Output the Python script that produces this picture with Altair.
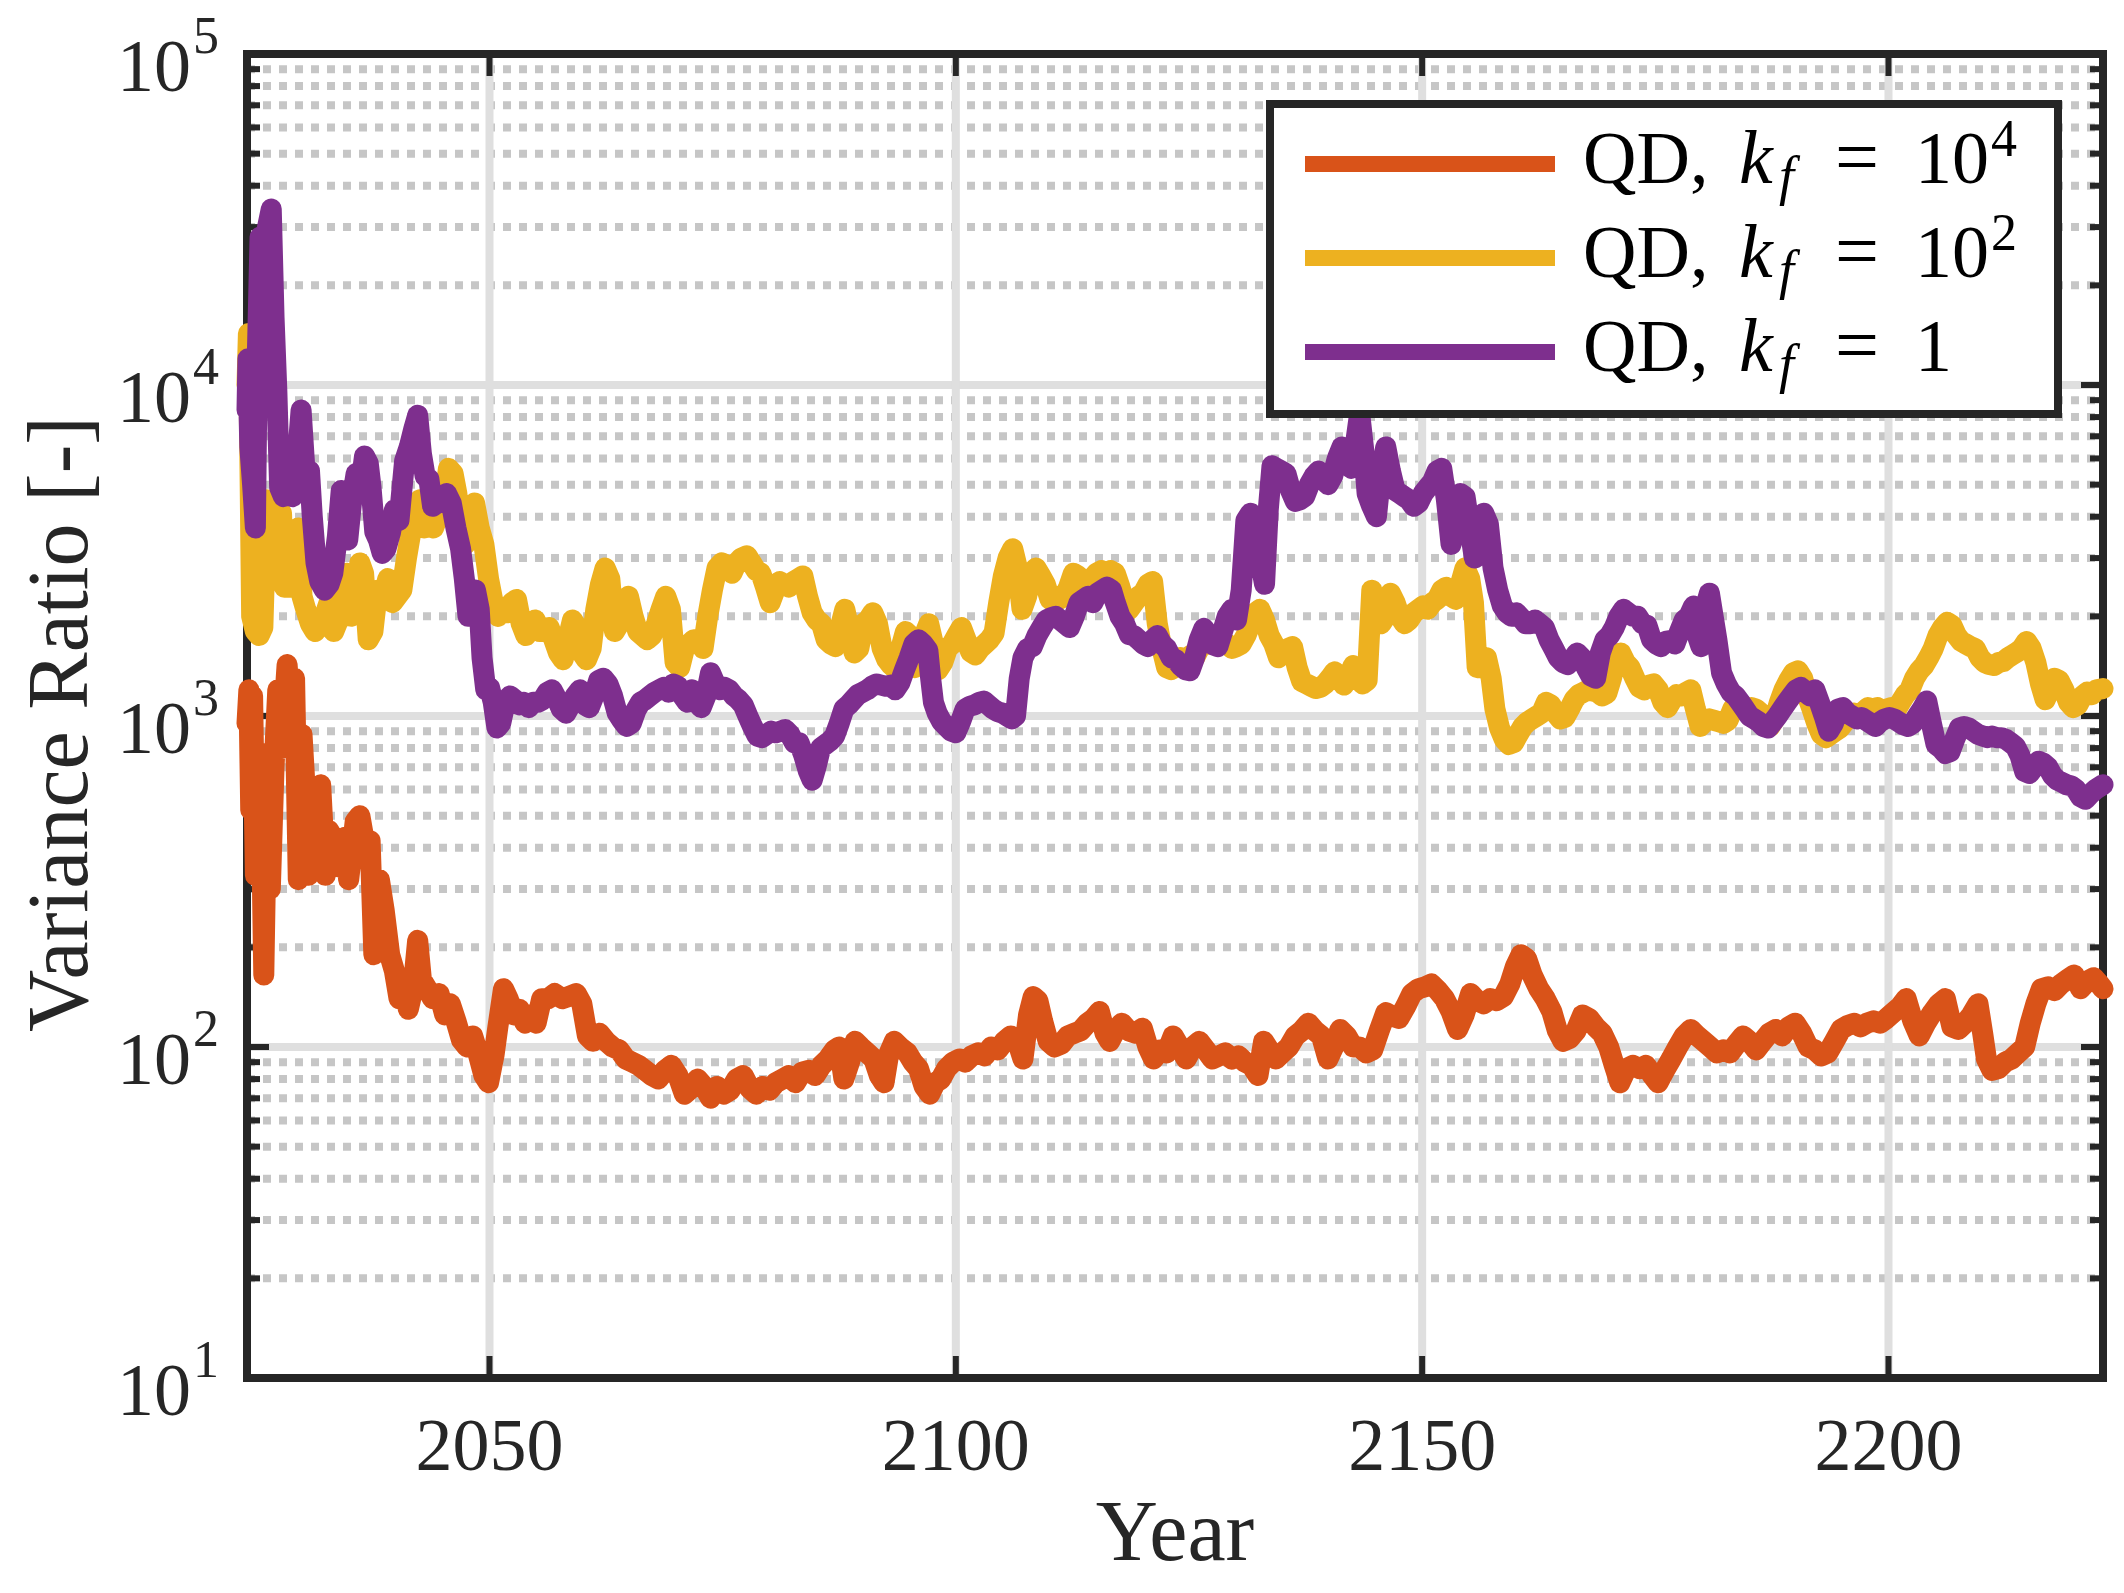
import altair as alt
import pandas as pd

# ---------------- data ----------------
SERIES = ["QD, kf = 1e4", "QD, kf = 1e2", "QD, kf = 1"]
COLORS = ["#D95319", "#EDB120", "#7E2F8E"]

KF_1E4 = [
    (2024.0, 950), (2024.2, 1200), (2024.4, 520), (2024.6, 1150), (2024.9, 330), (2025.2, 780),
    (2025.5, 600), (2025.8, 165), (2026.2, 770), (2026.5, 300), (2026.9, 700), (2027.3, 1200),
    (2027.7, 800), (2028.3, 1430), (2028.7, 1000), (2029.1, 1300), (2029.5, 320), (2029.9, 880),
    (2030.3, 560), (2030.6, 330), (2031.0, 600), (2031.4, 400), (2031.9, 620), (2032.4, 330),
    (2032.8, 450), (2033.4, 420), (2033.9, 350), (2034.5, 430), (2034.9, 320), (2035.6, 480),
    (2036.1, 500), (2036.7, 400), (2037.2, 420), (2037.6, 190), (2038.2, 320), (2038.7, 260),
    (2039.3, 190), (2039.8, 170), (2040.3, 140), (2040.8, 150), (2041.3, 130), (2041.8, 150),
    (2042.3, 210), (2042.7, 160), (2043.3, 150), (2043.9, 140), (2044.6, 145), (2045.2, 125),
    (2045.8, 135), (2046.4, 120), (2047.0, 105), (2047.6, 100), (2048.2, 108), (2048.8, 95),
    (2049.4, 82), (2049.9, 78), (2050.5, 95), (2050.9, 115), (2051.5, 150), (2052.0, 140),
    (2052.6, 125), (2053.2, 130), (2053.8, 118), (2054.4, 125), (2055.0, 118), (2055.6, 140),
    (2056.3, 140), (2057.0, 145), (2057.8, 140), (2058.5, 142), (2059.3, 145), (2059.9, 135),
    (2060.5, 108), (2061.1, 104), (2061.8, 110), (2062.5, 104), (2063.2, 100), (2063.9, 98),
    (2064.6, 92), (2065.3, 90), (2066.0, 88), (2066.7, 85), (2067.4, 82), (2068.1, 80),
    (2068.8, 85), (2069.5, 88), (2070.2, 82), (2070.9, 72), (2071.6, 75), (2072.3, 80),
    (2073.0, 76), (2073.7, 70), (2074.4, 76), (2075.1, 72), (2075.8, 74), (2076.5, 80),
    (2077.2, 82), (2077.9, 75), (2078.6, 72), (2079.3, 76), (2080.0, 74), (2080.7, 78),
    (2081.4, 80), (2082.1, 82), (2082.8, 78), (2083.5, 84), (2084.2, 85), (2084.9, 82),
    (2085.6, 88), (2086.3, 92), (2087.0, 98), (2087.5, 100), (2088.0, 80), (2088.6, 90),
    (2089.2, 104), (2089.8, 100), (2090.5, 96), (2091.2, 92), (2091.8, 82), (2092.3, 78),
    (2092.8, 95), (2093.4, 104), (2094.0, 100), (2094.8, 96), (2095.4, 90), (2096.0, 86),
    (2096.6, 76), (2097.2, 72), (2097.8, 78), (2098.4, 80), (2099.0, 86), (2099.7, 90),
    (2100.4, 92), (2101.0, 90), (2101.7, 94), (2102.4, 96), (2103.1, 94), (2103.8, 100),
    (2104.5, 98), (2105.2, 104), (2105.9, 108), (2106.6, 104), (2107.2, 92), (2107.8, 125),
    (2108.3, 142), (2108.8, 138), (2109.3, 120), (2109.9, 104), (2110.6, 100), (2111.3, 102),
    (2112.0, 108), (2112.7, 110), (2113.4, 112), (2114.1, 118), (2114.8, 122), (2115.4, 128),
    (2116.0, 110), (2116.5, 104), (2117.1, 112), (2117.8, 118), (2118.5, 112), (2119.3, 110),
    (2120.0, 114), (2120.6, 100), (2121.2, 92), (2121.9, 98), (2122.6, 96), (2123.3, 108),
    (2124.0, 100), (2124.7, 92), (2125.4, 100), (2126.1, 104), (2126.8, 98), (2127.5, 92),
    (2128.2, 94), (2128.9, 96), (2129.6, 92), (2130.3, 94), (2131.0, 90), (2131.7, 88),
    (2132.4, 82), (2133.0, 104), (2133.6, 98), (2134.3, 92), (2135.0, 96), (2135.7, 100),
    (2136.4, 108), (2137.1, 112), (2137.8, 118), (2138.5, 112), (2139.2, 108), (2139.9, 92),
    (2140.5, 100), (2141.2, 113), (2141.9, 108), (2142.6, 100), (2143.3, 100), (2144.0, 96),
    (2144.7, 98), (2145.4, 112), (2146.1, 127), (2146.8, 124), (2147.5, 122), (2148.2, 132),
    (2148.9, 145), (2149.6, 150), (2150.3, 152), (2151.0, 155), (2151.7, 148), (2152.4, 140),
    (2153.1, 128), (2153.8, 113), (2154.5, 125), (2155.2, 145), (2155.9, 138), (2156.6, 135),
    (2157.3, 140), (2158.0, 138), (2158.7, 142), (2159.4, 155), (2160.0, 175), (2160.6, 190),
    (2161.2, 185), (2161.8, 165), (2162.5, 150), (2163.2, 140), (2163.9, 128), (2164.5, 112),
    (2165.1, 104), (2165.8, 106), (2166.5, 112), (2167.2, 125), (2167.9, 122), (2168.6, 115),
    (2169.3, 110), (2170.0, 100), (2170.6, 88), (2171.2, 78), (2171.9, 86), (2172.6, 88),
    (2173.3, 86), (2174.0, 88), (2174.7, 82), (2175.3, 78), (2176.0, 85), (2176.7, 92),
    (2177.4, 100), (2178.1, 108), (2178.8, 113), (2179.5, 108), (2180.2, 104), (2180.9, 100),
    (2181.6, 96), (2182.3, 98), (2183.0, 96), (2183.7, 102), (2184.4, 108), (2185.1, 104),
    (2185.8, 98), (2186.5, 104), (2187.2, 110), (2187.9, 113), (2188.6, 108), (2189.3, 115),
    (2190.0, 118), (2190.7, 110), (2191.4, 100), (2192.1, 98), (2192.8, 94), (2193.5, 96),
    (2194.2, 104), (2194.9, 113), (2195.6, 116), (2196.3, 118), (2197.0, 115), (2197.7, 118),
    (2198.4, 120), (2199.1, 118), (2199.8, 122), (2200.5, 127), (2201.2, 132), (2201.9, 140),
    (2202.6, 120), (2203.3, 108), (2204.0, 118), (2204.7, 127), (2205.4, 135), (2206.1, 140),
    (2206.8, 115), (2207.5, 113), (2208.2, 118), (2208.9, 125), (2209.6, 135), (2210.1, 110),
    (2210.5, 92), (2211.1, 85), (2211.8, 86), (2212.5, 90), (2213.2, 92), (2213.9, 96),
    (2214.6, 100), (2215.2, 118), (2215.8, 135), (2216.4, 150), (2217.1, 152), (2217.8, 148),
    (2218.5, 155), (2219.2, 160), (2219.9, 165), (2220.6, 150), (2221.3, 158), (2222.0, 162),
    (2222.6, 155), (2223.0, 150),
]

KF_1E2 = [
    (2024.0, 10000), (2024.15, 14300), (2024.3, 6300), (2024.5, 2000), (2024.9, 1800), (2025.3, 1750),
    (2025.7, 1850), (2026.1, 4500), (2026.5, 2600), (2026.9, 2700), (2027.3, 3200), (2027.7, 4100),
    (2028.0, 2450), (2028.5, 2450), (2029.0, 2500), (2029.5, 3700), (2029.9, 2300), (2030.3, 2100),
    (2030.8, 1900), (2031.3, 1800), (2031.8, 1900), (2032.3, 2000), (2032.8, 2200), (2033.3, 1800),
    (2033.8, 1950), (2034.3, 2000), (2034.7, 2700), (2035.2, 2000), (2035.6, 2300), (2036.1, 2900),
    (2036.5, 2700), (2037.0, 1700), (2037.5, 1800), (2038.0, 2400), (2038.6, 2300), (2039.1, 2600),
    (2039.6, 2200), (2040.1, 2300), (2040.6, 2400), (2041.1, 3000), (2041.5, 3500), (2042.0, 4300),
    (2042.5, 4500), (2043.0, 3700), (2043.5, 3900), (2044.0, 3700), (2044.6, 4100), (2045.1, 4300),
    (2045.6, 5600), (2046.1, 5400), (2046.5, 4700), (2047.0, 3600), (2047.4, 3300), (2047.9, 4000),
    (2048.4, 4400), (2048.9, 3700), (2049.4, 3300), (2049.9, 2600), (2050.4, 2200), (2050.9, 2000),
    (2051.4, 2100), (2051.9, 2050), (2052.4, 2200), (2052.9, 2250), (2053.4, 1900), (2053.9, 1750),
    (2054.4, 1900), (2054.9, 1950), (2055.4, 1800), (2055.9, 1800), (2056.4, 1850), (2056.9, 1700),
    (2057.4, 1550), (2057.9, 1480), (2058.4, 1700), (2058.9, 1950), (2059.4, 1850), (2059.9, 1550),
    (2060.4, 1480), (2060.9, 1600), (2061.4, 2100), (2061.9, 2500), (2062.4, 2800), (2062.9, 2600),
    (2063.4, 1800), (2063.9, 1900), (2064.4, 2100), (2064.9, 2300), (2065.4, 2000), (2065.9, 1800),
    (2066.4, 1750), (2066.9, 1700), (2067.4, 1750), (2067.9, 1900), (2068.4, 2100), (2068.9, 2300),
    (2069.4, 2100), (2069.9, 1450), (2070.4, 1400), (2070.9, 1600), (2071.4, 1650), (2071.9, 1700),
    (2072.4, 1700), (2072.9, 1600), (2073.4, 2000), (2073.9, 2400), (2074.4, 2800), (2074.9, 2900),
    (2075.5, 2850), (2076.0, 2700), (2076.5, 2900), (2077.0, 3000), (2077.6, 3050), (2078.1, 2900),
    (2078.6, 2750), (2079.1, 2700), (2079.6, 2450), (2080.1, 2200), (2080.6, 2400), (2081.1, 2550),
    (2081.6, 2500), (2082.1, 2450), (2082.6, 2550), (2083.1, 2600), (2083.6, 2650), (2084.1, 2300),
    (2084.6, 2050), (2085.1, 1950), (2085.6, 1900), (2086.1, 1700), (2086.6, 1650), (2087.1, 1620),
    (2087.6, 1850), (2088.1, 2100), (2088.6, 1800), (2089.1, 1550), (2089.6, 1600), (2090.1, 1900),
    (2090.6, 1950), (2091.1, 2050), (2091.6, 1900), (2092.1, 1600), (2092.6, 1480), (2093.1, 1420),
    (2093.6, 1450), (2094.1, 1600), (2094.6, 1800), (2095.1, 1750), (2095.6, 1400), (2096.1, 1500),
    (2096.6, 1750), (2097.1, 1900), (2097.6, 1650), (2098.1, 1380), (2098.6, 1450), (2099.1, 1600),
    (2099.6, 1650), (2100.1, 1750), (2100.6, 1850), (2101.1, 1700), (2101.6, 1560), (2102.1, 1530),
    (2102.6, 1600), (2103.1, 1650), (2103.6, 1700), (2104.1, 1780), (2104.6, 2200), (2105.1, 2650),
    (2105.6, 3000), (2106.1, 3200), (2106.6, 2800), (2107.1, 2100), (2107.6, 2300), (2108.1, 2700),
    (2108.6, 2800), (2109.1, 2650), (2109.6, 2500), (2110.1, 2250), (2110.6, 2300), (2111.1, 2250),
    (2111.6, 2300), (2112.1, 2450), (2112.6, 2700), (2113.1, 2650), (2113.6, 2500), (2114.1, 2450),
    (2114.6, 2600), (2115.1, 2700), (2115.6, 2750), (2116.1, 2700), (2116.6, 2750), (2117.1, 2700),
    (2117.6, 2450), (2118.1, 2200), (2118.6, 2100), (2119.1, 2200), (2119.6, 2300), (2120.1, 2350),
    (2120.6, 2500), (2121.1, 2550), (2121.6, 1900), (2122.1, 1600), (2122.6, 1400), (2123.1, 1380),
    (2123.6, 1450), (2124.1, 1500), (2124.6, 1480), (2125.1, 1520), (2125.6, 1500), (2126.1, 1600),
    (2126.6, 1640), (2127.1, 1650), (2127.6, 1690), (2128.1, 1700), (2128.6, 1680), (2129.1, 1650),
    (2129.6, 1600), (2130.1, 1620), (2130.6, 1650), (2131.1, 1750), (2131.6, 1900), (2132.1, 2050),
    (2132.6, 2100), (2133.1, 1950), (2133.6, 1750), (2134.1, 1650), (2134.6, 1500), (2135.1, 1550),
    (2135.6, 1600), (2136.1, 1620), (2136.6, 1400), (2137.1, 1270), (2137.6, 1250), (2138.1, 1230),
    (2138.6, 1210), (2139.1, 1220), (2139.6, 1250), (2140.1, 1300), (2140.6, 1360), (2141.1, 1320),
    (2141.6, 1240), (2142.1, 1300), (2142.6, 1420), (2143.1, 1350), (2143.6, 1250), (2144.1, 1280),
    (2144.6, 2400), (2145.1, 2100), (2145.6, 1900), (2146.1, 2000), (2146.6, 2350), (2147.1, 2200),
    (2147.6, 2000), (2148.1, 1900), (2148.6, 1950), (2149.1, 2050), (2149.6, 2100), (2150.1, 2150),
    (2150.6, 2100), (2151.1, 2200), (2151.6, 2250), (2152.1, 2400), (2152.6, 2450), (2153.1, 2300),
    (2153.6, 2250), (2154.1, 2500), (2154.6, 2800), (2155.1, 2600), (2155.5, 2200), (2155.9, 1400),
    (2156.4, 1400), (2156.9, 1500), (2157.4, 1300), (2157.8, 1050), (2158.3, 920), (2158.8, 850),
    (2159.3, 820), (2159.8, 830), (2160.3, 880), (2160.8, 930), (2161.3, 960), (2161.8, 980),
    (2162.3, 1000), (2162.8, 1020), (2163.3, 1100), (2163.8, 1080), (2164.3, 1020), (2164.8, 980),
    (2165.3, 990), (2165.8, 1050), (2166.3, 1120), (2166.8, 1160), (2167.3, 1180), (2167.8, 1200),
    (2168.3, 1190), (2168.8, 1180), (2169.3, 1150), (2169.8, 1170), (2170.3, 1300), (2170.8, 1500),
    (2171.3, 1550), (2171.8, 1450), (2172.3, 1400), (2172.8, 1300), (2173.3, 1220), (2173.8, 1200),
    (2174.3, 1240), (2174.8, 1250), (2175.3, 1200), (2175.8, 1100), (2176.3, 1060), (2176.8, 1120),
    (2177.3, 1160), (2177.8, 1150), (2178.3, 1180), (2178.8, 1200), (2179.3, 1050), (2179.8, 930),
    (2180.3, 960), (2180.8, 980), (2181.3, 970), (2181.8, 960), (2182.3, 950), (2182.8, 970),
    (2183.3, 1050), (2183.8, 1100), (2184.3, 1080), (2184.8, 1050), (2185.3, 1060), (2185.8, 1050),
    (2186.3, 1020), (2186.8, 980), (2187.3, 930), (2187.8, 980), (2188.3, 1100), (2188.8, 1200),
    (2189.3, 1280), (2189.8, 1350), (2190.3, 1370), (2190.8, 1300), (2191.3, 1150), (2191.8, 1050),
    (2192.3, 950), (2192.8, 880), (2193.3, 860), (2193.8, 880), (2194.3, 900), (2194.8, 920),
    (2195.3, 960), (2195.8, 1000), (2196.3, 1020), (2196.8, 1000), (2197.3, 1030), (2197.8, 1060),
    (2198.3, 1050), (2198.8, 1060), (2199.3, 1040), (2199.8, 1050), (2200.3, 1060), (2200.8, 1040),
    (2201.3, 1100), (2201.8, 1160), (2202.3, 1200), (2202.8, 1300), (2203.3, 1370), (2203.8, 1420),
    (2204.3, 1500), (2204.8, 1600), (2205.3, 1750), (2205.8, 1850), (2206.3, 1920), (2206.8, 1880),
    (2207.3, 1750), (2207.8, 1680), (2208.3, 1650), (2208.8, 1620), (2209.3, 1600), (2209.8, 1500),
    (2210.3, 1450), (2210.8, 1430), (2211.3, 1420), (2211.8, 1450), (2212.3, 1460), (2212.8, 1500),
    (2213.3, 1530), (2213.8, 1560), (2214.3, 1600), (2214.8, 1680), (2215.3, 1600), (2215.8, 1450),
    (2216.3, 1250), (2216.8, 1120), (2217.3, 1200), (2217.8, 1300), (2218.3, 1280), (2218.8, 1200),
    (2219.3, 1100), (2219.8, 1060), (2220.3, 1080), (2220.8, 1150), (2221.3, 1180), (2221.8, 1160),
    (2222.3, 1200), (2223.0, 1210),
]

KF_1 = [
    (2024.0, 8400), (2024.1, 12000), (2024.3, 6500), (2024.6, 5000), (2024.9, 3700), (2025.1, 12000),
    (2025.4, 28000), (2025.8, 22000), (2026.2, 30000), (2026.6, 34000), (2026.9, 16000), (2027.2, 9600),
    (2027.5, 4900), (2027.9, 4600), (2028.4, 4700), (2028.9, 4600), (2029.4, 6000), (2029.8, 8400),
    (2030.2, 5600), (2030.7, 5500), (2031.0, 4000), (2031.4, 2900), (2031.8, 2550), (2032.3, 2400),
    (2032.8, 2500), (2033.2, 2700), (2033.7, 3500), (2034.1, 4800), (2034.5, 3800), (2034.8, 3400),
    (2035.2, 4400), (2035.7, 5400), (2036.2, 5000), (2036.6, 6100), (2037.0, 5800), (2037.3, 4900),
    (2037.7, 3600), (2038.1, 3400), (2038.5, 3100), (2038.9, 3200), (2039.4, 3600), (2039.8, 4200),
    (2040.3, 3900), (2040.9, 5900), (2041.4, 6500), (2041.9, 7400), (2042.3, 8100), (2042.7, 6200),
    (2043.1, 5300), (2043.5, 5200), (2043.9, 4300), (2044.4, 4400), (2044.9, 4600), (2045.4, 4700),
    (2045.9, 4400), (2046.4, 3700), (2046.9, 3200), (2047.3, 2600), (2047.7, 2000), (2048.1, 2200),
    (2048.5, 2400), (2048.9, 2100), (2049.2, 1500), (2049.6, 1200), (2050.0, 1220), (2050.4, 1100),
    (2050.8, 920), (2051.2, 950), (2051.7, 1100), (2052.2, 1150), (2052.7, 1120), (2053.2, 1080),
    (2053.7, 1100), (2054.2, 1060), (2054.7, 1100), (2055.2, 1100), (2055.7, 1120), (2056.2, 1180),
    (2056.7, 1200), (2057.2, 1130), (2057.7, 1050), (2058.2, 1020), (2058.7, 1080), (2059.2, 1150),
    (2059.7, 1200), (2060.2, 1080), (2060.7, 1060), (2061.2, 1150), (2061.7, 1280), (2062.2, 1300),
    (2062.7, 1250), (2063.2, 1150), (2063.7, 1020), (2064.2, 970), (2064.7, 930), (2065.2, 950),
    (2065.7, 1040), (2066.2, 1100), (2066.7, 1120), (2067.2, 1150), (2067.7, 1180), (2068.2, 1200),
    (2068.7, 1220), (2069.2, 1180), (2069.7, 1250), (2070.2, 1230), (2070.7, 1150), (2071.2, 1100),
    (2071.7, 1200), (2072.2, 1100), (2072.7, 1060), (2073.2, 1150), (2073.7, 1350), (2074.2, 1250),
    (2074.7, 1200), (2075.2, 1220), (2075.7, 1200), (2076.2, 1150), (2076.7, 1120), (2077.2, 1080),
    (2077.7, 1000), (2078.2, 930), (2078.7, 870), (2079.2, 860), (2079.7, 880), (2080.2, 900),
    (2080.7, 890), (2081.2, 900), (2081.7, 910), (2082.2, 880), (2082.7, 830), (2083.2, 830),
    (2083.7, 760), (2084.2, 680), (2084.6, 640), (2085.0, 700), (2085.5, 800), (2086.0, 820),
    (2086.5, 840), (2087.0, 870), (2087.5, 950), (2088.0, 1050), (2088.5, 1080), (2089.0, 1120),
    (2089.5, 1160), (2090.0, 1180), (2090.5, 1200), (2091.0, 1230), (2091.5, 1250), (2092.0, 1240),
    (2092.5, 1230), (2093.0, 1240), (2093.5, 1200), (2094.0, 1260), (2094.5, 1380), (2095.0, 1500),
    (2095.5, 1650), (2096.0, 1700), (2096.5, 1650), (2097.0, 1580), (2097.3, 1300), (2097.6, 1100),
    (2098.0, 1020), (2098.5, 960), (2099.0, 930), (2099.5, 900), (2100.0, 890), (2100.5, 960),
    (2101.0, 1050), (2101.5, 1070), (2102.0, 1080), (2102.5, 1100), (2103.0, 1110), (2103.5, 1080),
    (2104.0, 1050), (2104.5, 1030), (2105.0, 1020), (2105.5, 1000), (2106.0, 980), (2106.4, 1000),
    (2106.8, 1300), (2107.2, 1500), (2107.7, 1600), (2108.2, 1620), (2108.7, 1750), (2109.2, 1850),
    (2109.7, 1950), (2110.2, 1980), (2110.7, 2000), (2111.2, 1950), (2111.7, 1900), (2112.2, 1850),
    (2112.7, 2000), (2113.2, 2200), (2113.7, 2250), (2114.2, 2300), (2114.7, 2200), (2115.2, 2350),
    (2115.7, 2400), (2116.2, 2450), (2116.7, 2400), (2117.1, 2200), (2117.6, 2000), (2118.1, 1900),
    (2118.6, 1760), (2119.1, 1750), (2119.6, 1700), (2120.1, 1650), (2120.6, 1620), (2121.1, 1700),
    (2121.6, 1750), (2122.1, 1650), (2122.6, 1600), (2123.1, 1500), (2123.6, 1480), (2124.1, 1420),
    (2124.6, 1380), (2125.1, 1370), (2125.6, 1500), (2126.1, 1700), (2126.6, 1840), (2127.1, 1750),
    (2127.6, 1640), (2128.1, 1620), (2128.6, 1800), (2129.1, 2000), (2129.6, 2100), (2130.1, 1950),
    (2130.6, 2400), (2131.1, 3900), (2131.6, 4100), (2132.1, 3700), (2132.6, 3000), (2133.1, 2500),
    (2133.5, 4200), (2133.9, 5700), (2134.4, 5600), (2134.9, 5500), (2135.4, 5400), (2135.9, 4800),
    (2136.4, 4450), (2136.9, 4500), (2137.4, 4600), (2137.9, 5000), (2138.4, 5300), (2138.9, 5500),
    (2139.4, 5200), (2139.9, 5000), (2140.4, 5300), (2140.9, 6000), (2141.4, 6500), (2141.9, 6000),
    (2142.4, 5600), (2142.9, 6800), (2143.3, 8200), (2143.7, 6500), (2144.1, 4700), (2144.6, 4300),
    (2145.1, 4000), (2145.6, 5500), (2146.1, 6500), (2146.6, 5500), (2147.1, 4800), (2147.6, 4700),
    (2148.1, 4600), (2148.6, 4500), (2149.1, 4300), (2149.6, 4400), (2150.1, 4700), (2150.6, 4900),
    (2151.1, 5100), (2151.6, 5500), (2152.1, 5600), (2152.6, 4500), (2153.1, 3300), (2153.6, 3800),
    (2154.1, 4700), (2154.6, 4600), (2155.1, 3700), (2155.6, 3000), (2156.1, 3600), (2156.6, 4100),
    (2157.1, 3800), (2157.6, 2800), (2158.1, 2400), (2158.6, 2150), (2159.1, 2050), (2159.6, 2000),
    (2160.1, 2050), (2160.6, 1980), (2161.1, 1900), (2161.6, 1900), (2162.1, 1950), (2162.6, 1900),
    (2163.1, 1850), (2163.6, 1700), (2164.1, 1600), (2164.6, 1500), (2165.1, 1450), (2165.6, 1430),
    (2166.1, 1480), (2166.6, 1550), (2167.1, 1500), (2167.6, 1400), (2168.1, 1320), (2168.6, 1300),
    (2169.1, 1550), (2169.6, 1700), (2170.1, 1750), (2170.6, 1850), (2171.1, 2000), (2171.6, 2100),
    (2172.1, 2050), (2172.6, 2000), (2173.1, 2000), (2173.6, 1900), (2174.1, 1880), (2174.6, 1700),
    (2175.1, 1650), (2175.6, 1620), (2176.1, 1680), (2176.6, 1690), (2177.1, 1650), (2177.6, 1800),
    (2178.1, 1950), (2178.6, 2000), (2179.1, 2150), (2179.5, 1750), (2179.9, 1620), (2180.3, 2100),
    (2180.8, 2350), (2181.2, 2000), (2181.6, 1700), (2182.1, 1350), (2182.6, 1250), (2183.1, 1180),
    (2183.6, 1150), (2184.1, 1100), (2184.6, 1050), (2185.1, 1000), (2185.6, 980), (2186.1, 960),
    (2186.6, 930), (2187.1, 920), (2187.6, 960), (2188.1, 1000), (2188.6, 1050), (2189.1, 1100),
    (2189.6, 1150), (2190.1, 1200), (2190.6, 1220), (2191.1, 1180), (2191.6, 1150), (2192.1, 1200),
    (2192.6, 1100), (2193.1, 1000), (2193.6, 900), (2194.1, 950), (2194.6, 1050), (2195.1, 1060),
    (2195.6, 1020), (2196.1, 1000), (2196.6, 980), (2197.1, 990), (2197.6, 970), (2198.1, 950),
    (2198.6, 930), (2199.1, 960), (2199.6, 980), (2200.1, 990), (2200.6, 980), (2201.1, 960),
    (2201.6, 940), (2202.1, 930), (2202.6, 950), (2203.1, 1000), (2203.6, 1050), (2204.1, 1110),
    (2204.6, 950), (2205.1, 820), (2205.6, 800), (2206.1, 770), (2206.6, 780), (2207.1, 850),
    (2207.6, 920), (2208.1, 930), (2208.6, 920), (2209.1, 900), (2209.6, 880), (2210.1, 870),
    (2210.6, 860), (2211.1, 870), (2211.6, 860), (2212.1, 860), (2212.6, 850), (2213.1, 830),
    (2213.6, 810), (2214.1, 760), (2214.6, 680), (2215.1, 670), (2215.6, 700), (2216.1, 730),
    (2216.6, 720), (2217.1, 700), (2217.6, 660), (2218.1, 640), (2218.6, 630), (2219.1, 620),
    (2219.6, 615), (2220.1, 600), (2220.6, 570), (2221.1, 560), (2221.6, 580), (2222.2, 600),
    (2223.0, 620),
]

X_DOMAIN = [2024, 2223]
Y_DOMAIN = [10, 100000]
X_TICKS = [2050, 2100, 2150, 2200]
Y_DECADES = [10, 100, 1000, 10000, 100000]
Y_EXPONENTS = ["1", "2", "3", "4", "5"]
LEGEND_EXPONENTS = ["4", "2", ""]
LEGEND_MAIN = ["10", "10", "1"]

# ---------------- layout ----------------
W, H = 1856, 1324
FONT = "Liberation Serif"
AX = "#262626"

xs = alt.Scale(domain=X_DOMAIN, nice=False, zero=False)
ys = alt.Scale(type="log", domain=Y_DOMAIN, nice=False)
X = lambda: alt.X("year:Q", scale=xs, axis=None)
Y = lambda: alt.Y("value:Q", scale=ys, axis=None)

minor_vals = [m * d for d in Y_DECADES[:-1] for m in range(2, 10)]
df_minor = pd.DataFrame({"value": minor_vals})
df_major = pd.DataFrame({"value": Y_DECADES, "exp": Y_EXPONENTS})
df_xt = pd.DataFrame({"year": X_TICKS, "label": [str(t) for t in X_TICKS]})
one = pd.DataFrame({"k": [0]})

layers = []
# grids
layers.append(alt.Chart(df_minor).mark_rule(color="#c6c6c6", strokeWidth=8, strokeDash=[8, 8]).encode(
    y=Y(), x=alt.value(0), x2=alt.value(W)))
layers.append(alt.Chart(df_major).mark_rule(color="#dfdfdf", strokeWidth=8).encode(
    y=Y(), x=alt.value(0), x2=alt.value(W)))
layers.append(alt.Chart(df_xt).mark_rule(color="#dfdfdf", strokeWidth=8).encode(
    x=X(), y=alt.value(0), y2=alt.value(H)))
# ticks (inside)
layers.append(alt.Chart(df_xt).mark_rule(color=AX, strokeWidth=6).encode(x=X(), y=alt.value(H), y2=alt.value(H - 22)))
layers.append(alt.Chart(df_xt).mark_rule(color=AX, strokeWidth=6).encode(x=X(), y=alt.value(0), y2=alt.value(22)))
layers.append(alt.Chart(df_major).mark_rule(color=AX, strokeWidth=6).encode(y=Y(), x=alt.value(0), x2=alt.value(22)))
layers.append(alt.Chart(df_major).mark_rule(color=AX, strokeWidth=6).encode(y=Y(), x=alt.value(W), x2=alt.value(W - 22)))
layers.append(alt.Chart(df_minor).mark_rule(color=AX, strokeWidth=6).encode(y=Y(), x=alt.value(0), x2=alt.value(13)))
layers.append(alt.Chart(df_minor).mark_rule(color=AX, strokeWidth=6).encode(y=Y(), x=alt.value(W), x2=alt.value(W - 13)))
# frame
layers.append(alt.Chart(one).mark_rect(filled=False, stroke=AX, strokeWidth=8).encode(
    x=alt.value(0), x2=alt.value(W), y=alt.value(0), y2=alt.value(H)))
# data lines
for data, color in zip([KF_1E4, KF_1E2, KF_1], COLORS):
    df = pd.DataFrame(data, columns=["year", "value"])
    layers.append(alt.Chart(df).mark_line(color=color, strokeWidth=21, strokeCap="round", strokeJoin="round").encode(
        x=X(), y=Y(), order="year:Q"))
# tick labels
layers.append(alt.Chart(df_xt).mark_text(font=FONT, fontSize=74, color=AX, align="center", baseline="alphabetic").encode(
    x=X(), y=alt.value(H + 92), text="label:N"))
layers.append(alt.Chart(df_major).mark_text(font=FONT, fontSize=74, color=AX, align="right", baseline="alphabetic", dy=37).encode(
    y=Y(), x=alt.value(-56), text=alt.value("10")))
layers.append(alt.Chart(df_major).mark_text(font=FONT, fontSize=52, color=AX, align="left", baseline="alphabetic", dy=-1).encode(
    y=Y(), x=alt.value(-54), text="exp:N"))
# axis titles
layers.append(alt.Chart(one).mark_text(font=FONT, fontSize=86, color=AX, align="center", baseline="alphabetic").encode(
    x=alt.value(W / 2), y=alt.value(H + 182), text=alt.value("Year")))
layers.append(alt.Chart(one).mark_text(font=FONT, fontSize=86, color=AX, align="center", baseline="alphabetic", angle=270).encode(
    x=alt.value(-160), y=alt.value(670), text=alt.value("Variance Ratio [-]")))
# legend
LX0, LX1, LY0, LY1 = 1023, 1811, 50, 360
ROW_Y = [110, 204, 298]
layers.append(alt.Chart(one).mark_rect(fill="white", stroke=AX, strokeWidth=8).encode(
    x=alt.value(LX0), x2=alt.value(LX1), y=alt.value(LY0), y2=alt.value(LY1)))
for i, color in enumerate(COLORS):
    ry = ROW_Y[i]
    bl = ry + 19
    layers.append(alt.Chart(one).mark_rule(color=color, strokeWidth=16).encode(
        x=alt.value(1058), x2=alt.value(1308), y=alt.value(ry)))
    layers.append(alt.Chart(one).mark_text(font=FONT, fontSize=74, color="black", align="left", baseline="alphabetic").encode(
        x=alt.value(1336), y=alt.value(bl), text=alt.value("QD,")))
    layers.append(alt.Chart(one).mark_text(font=FONT, fontSize=76, fontStyle="italic", color="black", align="left", baseline="alphabetic").encode(
        x=alt.value(1492), y=alt.value(bl), text=alt.value("k")))
    layers.append(alt.Chart(one).mark_text(font=FONT, fontSize=54, fontStyle="italic", color="black", align="left", baseline="alphabetic").encode(
        x=alt.value(1532), y=alt.value(bl + 11), text=alt.value("f")))
    layers.append(alt.Chart(one).mark_text(font=FONT, fontSize=78, color="black", align="left", baseline="alphabetic").encode(
        x=alt.value(1588), y=alt.value(bl), text=alt.value("=")))
    layers.append(alt.Chart(one).mark_text(font=FONT, fontSize=74, color="black", align="left", baseline="alphabetic").encode(
        x=alt.value(1668), y=alt.value(bl), text=alt.value(LEGEND_MAIN[i])))
    if LEGEND_EXPONENTS[i]:
        layers.append(alt.Chart(one).mark_text(font=FONT, fontSize=52, color="black", align="left", baseline="alphabetic").encode(
            x=alt.value(1744), y=alt.value(bl - 27), text=alt.value(LEGEND_EXPONENTS[i])))

chart = alt.layer(*layers).properties(
    width=W, height=H,
    padding={"left": 239, "top": 46, "right": 13, "bottom": 207},
    autosize=alt.AutoSizeParams(type="none"),
    background="white",
).configure_view(strokeWidth=0)

chart.save("out.html", embed_options={"renderer": "svg", "actions": False})
